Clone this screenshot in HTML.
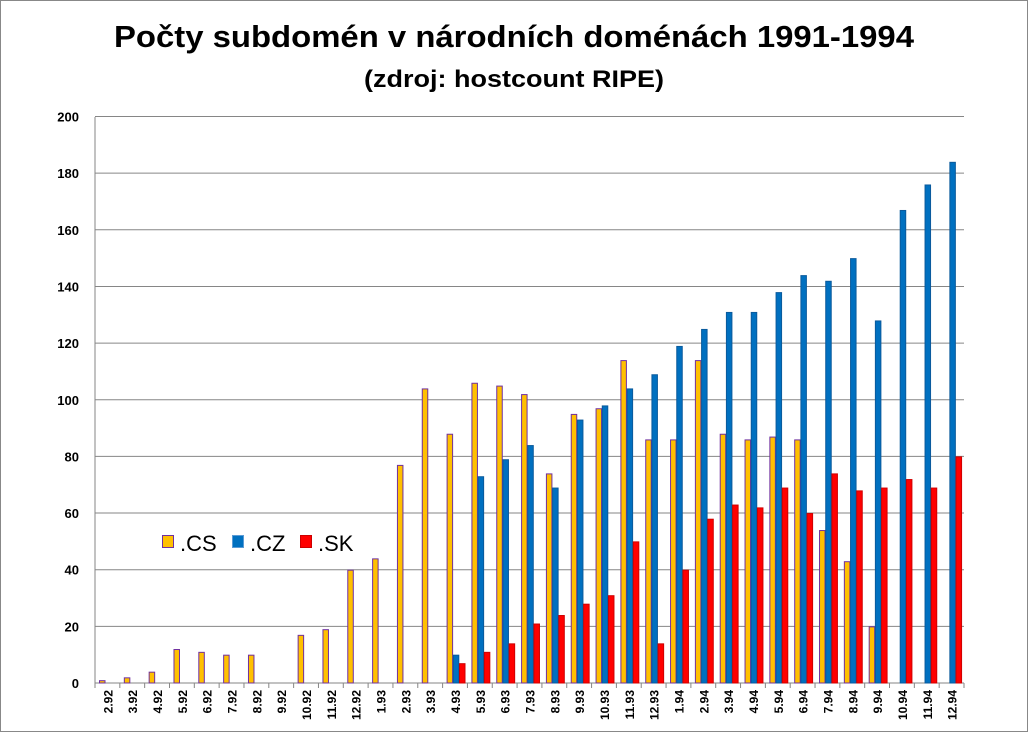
<!DOCTYPE html>
<html><head><meta charset="utf-8"><style>
html,body{margin:0;padding:0;background:#fff}
svg{display:block}
</style></head><body>
<svg id="c" width="1029" height="733" xmlns="http://www.w3.org/2000/svg" font-family="Liberation Sans, sans-serif">
<rect x="0.5" y="0.5" width="1027" height="731" fill="#fff" stroke="#888" stroke-width="1"/>
<text x="514" y="47" text-anchor="middle" font-weight="bold" font-size="31" textLength="800" lengthAdjust="spacingAndGlyphs">Počty subdomén v národních doménách  1991-1994</text>
<text x="514" y="87" text-anchor="middle" font-weight="bold" font-size="24" textLength="300" lengthAdjust="spacingAndGlyphs">(zdroj: hostcount RIPE)</text>
<g id="grid"></g>
<g id="bars"></g>
<g id="xl"></g>
<g font-size="22">
<rect x="162.5" y="535.5" width="11" height="12" fill="#ffc000" stroke="#7030a0"/>
<text x="180" y="551">.CS</text>
<rect x="232.5" y="535.5" width="11" height="12" fill="#0070c0" stroke="#5b9bd5"/>
<text x="250" y="551">.CZ</text>
<rect x="300.5" y="535.5" width="11" height="12" fill="#ff0000" stroke="#c00"/>
<text x="318" y="551">.SK</text>
</g>
</svg>
<script>
var NS="http://www.w3.org/2000/svg";
function el(p,t,a,txt){var e=document.createElementNS(NS,t);for(var k in a)e.setAttribute(k,a[k]);if(txt!==undefined)e.textContent=txt;p.appendChild(e);return e;}
var g=document.getElementById('grid'),b=document.getElementById('bars'),xl=document.getElementById('xl');
var X0=95,X1=964,Y0=683,S=2.8325;
for(var v=0;v<=200;v+=20){var y=Y0-v*S;
 if(v>0)el(g,'line',{x1:X0,x2:X1,y1:y,y2:y,stroke:'#868686','stroke-width':1});
 el(g,'text',{x:79,y:y+5,'text-anchor':'end','font-size':13,'font-weight':'bold'},String(v));}
el(g,'line',{x1:X0,x2:X0,y1:117,y2:Y0+5,stroke:'#868686'});
el(g,'line',{x1:X0,x2:X1,y1:Y0,y2:Y0,stroke:'#868686'});
var labs=[],d=[[1,0,0],[2,0,0],[4,0,0],[12,0,0],[11,0,0],[10,0,0],[10,0,0],[0,0,0],[17,0,0],[19,0,0],[40,0,0],[44,0,0],[77,0,0],[104,0,0],[88,10,7],[106,73,11],[105,79,14],[102,84,21],[74,69,24],[95,93,28],[97,98,31],[114,104,50],[86,109,14],[86,119,40],[114,125,58],[88,131,63],[86,131,62],[87,138,69],[86,144,60],[54,142,74],[43,150,68],[20,128,69],[0,167,72],[0,176,69],[0,184,80]];
for(var m=2;m<=12;m++)labs.push(m+'.92');for(var m=1;m<=12;m++)labs.push(m+'.93');for(var m=1;m<=12;m++)labs.push(m+'.94');
var W=(X1-X0)/35,cols=[['#ffc000','#7030a0'],['#0070c0','#0a5a9c'],['#ff0000','#d00000']];
for(var i=0;i<35;i++){var l=X0+i*W;
 el(g,'line',{x1:l+W,x2:l+W,y1:Y0,y2:Y0+5,stroke:'#868686'});
 for(var s=0;s<3;s++){var v=d[i][s];if(!v)continue;var h=v*S,x=l+4+s*6.2;
  el(b,'rect',{x:x+0.5,y:Y0-h+0.5,width:5.5,height:h-0.5,fill:cols[s][0],stroke:cols[s][1],'stroke-width':1});}
 var cx=l+W/2+5;el(xl,'text',{x:0,y:0,transform:'translate('+cx+',690) rotate(-90)','text-anchor':'end','font-size':12,'font-weight':'bold'},labs[i]);}
</script>
</body></html>
